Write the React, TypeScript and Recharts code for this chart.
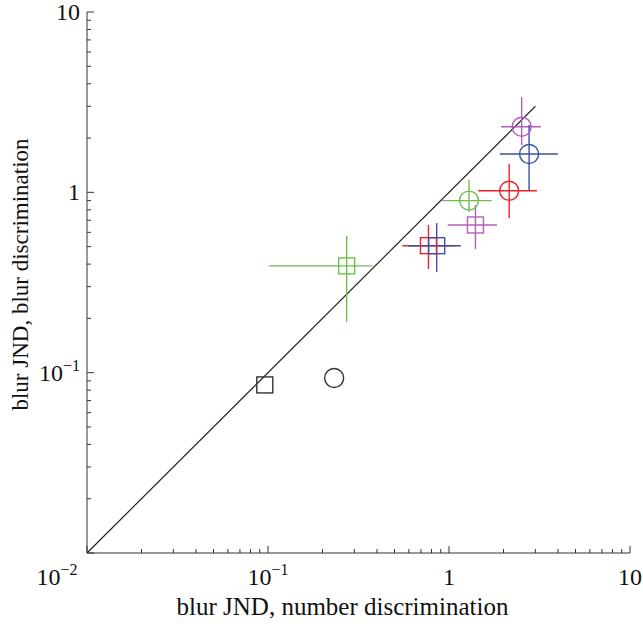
import { ErrorBar, ReferenceLine, Scatter, ScatterChart, XAxis, YAxis } from "recharts";

// log-log axes, one decade = ~180px
const axisTicks = [
  0.01, 0.02, 0.03, 0.04, 0.05, 0.06, 0.07, 0.08, 0.09,
  0.1, 0.2, 0.3, 0.4, 0.5, 0.6, 0.7, 0.8, 0.9,
  1, 2, 3, 4, 5, 6, 7, 8, 9, 10,
];
const identityLine = [0.01, 3];

const pointNames = [
  "black square", "black circle",
  "green square", "green circle",
  "magenta square", "magenta circle",
  "red square", "red circle",
  "blue square", "blue circle",
];
const pointShapes = ["square", "circle", "square", "circle", "square", "circle", "square", "circle", "square", "circle"];
const pointColors = ["#333333", "#333333", "#6cc04a", "#6cc04a", "#b55fb8", "#b55fb8", "#ee2229", "#ee2229", "#3d4fa8", "#3d4fa8"];

// blur JND from number discrimination (x) and blur discrimination (y)
const xValues = [0.096, 0.232, 0.272, 1.29, 1.4, 2.52, 0.77, 2.15, 0.855, 2.77];
const yValues = [0.0855, 0.0935, 0.391, 0.9, 0.659, 2.31, 0.506, 1.02, 0.506, 1.63];
// confidence limits (null = no error bar)
const xLower = [null, null, 0.101, 0.912, 0.984, 1.94, 0.552, 1.45, 0.593, 1.91];
const xUpper = [null, null, 0.376, 1.72, 1.84, 3.22, 1.08, 3.06, 1.16, 4.0];
const yLower = [null, null, 0.191, 0.78, 0.485, 1.83, 0.376, 0.72, 0.361, 1.03];
const yUpper = [null, null, 0.573, 1.17, 0.851, 3.37, 0.66, 1.44, 0.675, 2.36];

const FONT = "'Liberation Serif', 'Times New Roman', serif";
const AXIS_COLOR = "#333";

const isDecade = (v: number) => Math.abs(Math.log10(v) - Math.round(Math.log10(v))) < 1e-6;

function DecadeLabel({ v, x, y, anchor }: { v: number; x: number; y: number; anchor: "middle" | "end" }) {
  const e = Math.round(Math.log10(v));
  return (
    <text x={x} y={y} textAnchor={anchor} fontFamily={FONT} fontSize={24} fill="#111">
      {e === 0 ? "1" : "10"}
      {e < 0 && (
        <tspan dy={-10} fontSize={16}>
          {"\u2212" + Math.abs(e)}
        </tspan>
      )}
    </text>
  );
}

function BottomTick(props: any) {
  const { x, y, payload } = props;
  const major = isDecade(payload.value);
  return (
    <g>
      <line x1={x} x2={x} y1={y} y2={y - (major ? 7 : 4)} stroke={AXIS_COLOR} />
      {major && <DecadeLabel v={payload.value} x={payload.value === 0.01 ? x - 30 : x} y={y + 32} anchor="middle" />}
    </g>
  );
}

function TopTick(props: any) {
  const { x, y, payload } = props;
  const major = isDecade(payload.value);
  return <line x1={x} x2={x} y1={y} y2={y + (major ? 7 : 4)} stroke={AXIS_COLOR} />;
}

function LeftTick(props: any) {
  const { x, y, payload } = props;
  const major = isDecade(payload.value);
  return (
    <g>
      <line x1={x} x2={x + (major ? 7 : 4)} y1={y} y2={y} stroke={AXIS_COLOR} />
      {major && payload.value !== 0.01 && <DecadeLabel v={payload.value} x={x - 7} y={y + 8} anchor="end" />}
    </g>
  );
}

function RightTick(props: any) {
  const { x, y, payload } = props;
  const major = isDecade(payload.value);
  return <line x1={x} x2={x - (major ? 7 : 4)} y1={y} y2={y} stroke={AXIS_COLOR} />;
}

function XTitle(props: any) {
  const { x, y, width } = props.viewBox;
  return (
    <text x={x + width / 2 - 16} y={y + 62} textAnchor="middle" fontFamily={FONT} fontSize={25} fill="#111">
      blur JND, number discrimination
    </text>
  );
}

function YTitle(props: any) {
  const { y, height } = props.viewBox;
  const cx = 28;
  const cy = y + height / 2 - 8;
  return (
    <text
      transform={`translate(${cx},${cy}) rotate(-90)`}
      textAnchor="middle"
      fontFamily={FONT}
      fontSize={23}
      fill="#111"
    >
      blur JND, blur discrimination
    </text>
  );
}

function Marker(props: any) {
  const { cx, cy, shape, color } = props;
  if (shape === "square") {
    return <rect x={cx - 8} y={cy - 8} width={16} height={16} fill="none" stroke={color} strokeWidth={1.4} />;
  }
  return <circle cx={cx} cy={cy} r={9.5} fill="none" stroke={color} strokeWidth={1.4} />;
}

const points = pointNames.map((name, i) => ({
  name,
  x: xValues[i],
  y: yValues[i],
  ex: xLower[i] === null ? undefined : [xValues[i] - (xLower[i] as number), (xUpper[i] as number) - xValues[i]],
  ey: yLower[i] === null ? undefined : [yValues[i] - (yLower[i] as number), (yUpper[i] as number) - yValues[i]],
}));

export default function App() {
  return (
    <div style={{ position: "absolute", left: 0, top: 0, width: 643, height: 624, background: "#fff" }}>
      <ScatterChart width={643} height={624} margin={{ top: 12, right: 13, bottom: 0, left: 0 }}>
        <XAxis
          xAxisId="bottom"
          type="number"
          dataKey="x"
          scale="log"
          domain={[0.01, 10]}
          allowDataOverflow
          ticks={axisTicks}
          interval={0}
          tickSize={0}
          tickMargin={0}
          tickLine={false}
          tick={<BottomTick />}
          axisLine={{ stroke: AXIS_COLOR }}
          height={71}
          label={<XTitle />}
        />
        <XAxis
          xAxisId="top"
          orientation="top"
          type="number"
          dataKey="x"
          scale="log"
          domain={[0.01, 10]}
          allowDataOverflow
          ticks={axisTicks}
          interval={0}
          tickSize={0}
          tickMargin={0}
          tickLine={false}
          tick={<TopTick />}
          axisLine={{ stroke: AXIS_COLOR }}
          height={0}
        />
        <YAxis
          yAxisId="left"
          type="number"
          dataKey="y"
          scale="log"
          domain={[0.01, 10]}
          allowDataOverflow
          ticks={axisTicks}
          interval={0}
          tickSize={0}
          tickMargin={0}
          tickLine={false}
          tick={<LeftTick />}
          axisLine={{ stroke: AXIS_COLOR }}
          width={87}
          label={<YTitle />}
        />
        <YAxis
          yAxisId="right"
          orientation="right"
          type="number"
          dataKey="y"
          scale="log"
          domain={[0.01, 10]}
          allowDataOverflow
          ticks={axisTicks}
          interval={0}
          tickSize={0}
          tickMargin={0}
          tickLine={false}
          tick={<RightTick />}
          axisLine={{ stroke: AXIS_COLOR }}
          width={0}
        />
        <ReferenceLine
          xAxisId="bottom"
          yAxisId="left"
          segment={[
            { x: identityLine[0], y: identityLine[0] },
            { x: identityLine[1], y: identityLine[1] },
          ]}
          stroke="#222"
          strokeWidth={1.2}
          ifOverflow="visible"
        />
        {points.map((p, i) => (
          <Scatter
            key={p.name}
            name={p.name}
            xAxisId="bottom"
            yAxisId="left"
            data={[p]}
            isAnimationActive={false}
            shape={(s: any) => <Marker cx={s.cx} cy={s.cy} shape={pointShapes[i]} color={pointColors[i]} />}
          >
            {p.ex && <ErrorBar dataKey="ex" direction="x" width={0} stroke={pointColors[i]} strokeWidth={1.4} />}
            {p.ey && <ErrorBar dataKey="ey" direction="y" width={0} stroke={pointColors[i]} strokeWidth={1.4} />}
          </Scatter>
        ))}
      </ScatterChart>
    </div>
  );
}
